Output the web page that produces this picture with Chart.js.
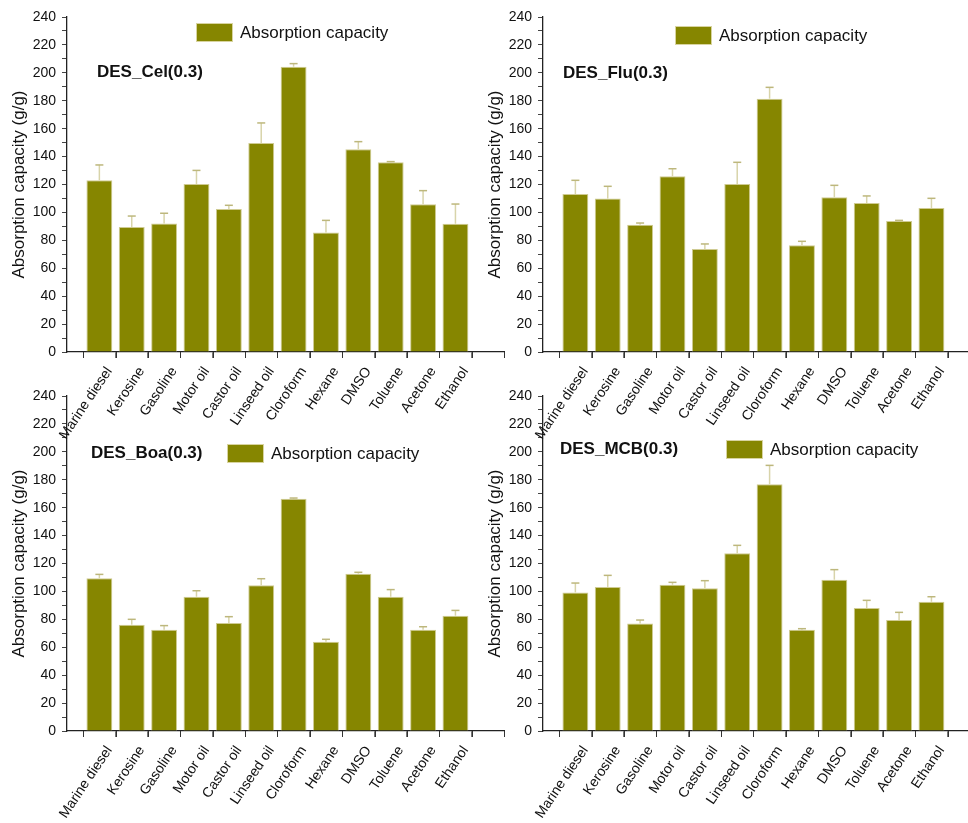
<!DOCTYPE html>
<html><head><meta charset="utf-8">
<script src="https://cdn.jsdelivr.net/npm/chart.js@4.4.0/dist/chart.umd.min.js"></script>
<style>
html,body{margin:0;padding:0;background:#fff;overflow:hidden;}
#wrap{position:relative;width:968px;height:823px;overflow:hidden;background:#fff;}
canvas{position:absolute;}
</style></head><body><div id="wrap">
<canvas id="c3" width="510" height="443" style="left:0px;top:380px;width:510px;height:443px"></canvas>
<canvas id="c4" width="510" height="443" style="left:476px;top:380px;width:510px;height:443px"></canvas>
<canvas id="c1" width="510" height="460" style="left:0px;top:0px;width:510px;height:460px"></canvas>
<canvas id="c2" width="510" height="460" style="left:476px;top:0px;width:510px;height:460px"></canvas>
</div>
<script>
// ---- data ----
const categories = ['Marine diesel','Kerosine','Gasoline','Motor oil','Castor oil','Linseed oil','Cloroform','Hexane','DMSO','Toluene','Acetone','Ethanol'];
const celValues = [123.0, 89.6, 92.0, 120.4, 102.4, 149.7, 204.4, 85.7, 145.2, 135.9, 105.8, 91.9];
const celErrors = [11.0, 7.8, 7.4, 9.7, 2.7, 14.4, 2.2, 8.6, 5.5, 0.5, 9.8, 14.1];
const fluValues = [113.2, 109.9, 91.2, 125.9, 73.8, 120.4, 181.5, 76.4, 110.8, 106.7, 93.9, 103.2];
const fluErrors = [9.8, 8.8, 1.2, 5.4, 3.6, 15.5, 8.1, 2.9, 8.6, 5.1, 0.4, 6.9];
const boaValues = [109.4, 76.2, 72.6, 96.2, 77.4, 104.4, 166.4, 64.0, 112.7, 96.2, 72.6, 82.6];
const boaErrors = [2.8, 3.8, 2.9, 4.3, 4.5, 4.7, 0.5, 1.7, 1.0, 5.1, 2.1, 3.8];
const mcbValues = [99.3, 103.2, 77.1, 104.8, 102.2, 127.3, 176.7, 72.6, 108.4, 88.1, 79.5, 92.6];
const mcbErrors = [6.7, 8.3, 2.4, 1.7, 5.5, 5.7, 13.6, 0.7, 7.2, 5.5, 5.5, 3.6];
const yTickValues = [0,10,20,30,40,50,60,70,80,90,100,110,120,130,140,150,160,170,180,190,200,210,220,230,240];
const xTickValues = [0,1,2,3,4,5,6,7,8,9,10,11,12,13];
const xMinorTickValues = [0.5,1.5,2.5,3.5,4.5,5.5,6.5,7.5,8.5,9.5,10.5,11.5,12.5,13.5];
const seriesName = 'Absorption capacity';
const yTitle = 'Absorption capacity (g/g)';

const FONT = "'Liberation Sans', Arial, sans-serif";
const BAR = '#868600';

const decoPlugin = {
  id: 'deco',
  afterDatasetsDraw(chart, args, opts) {
    const ctx = chart.ctx;
    const ca = chart.chartArea;
    const ys = chart.scales.y, xs = chart.scales.x;
    ctx.save();
    // minor x ticks
    ctx.strokeStyle = '#333'; ctx.lineWidth = 1;
    xMinorTickValues.forEach(v => {
      const px = Math.round(xs.getPixelForValue(v)) + 0.5;
      ctx.beginPath(); ctx.moveTo(px, ca.bottom); ctx.lineTo(px, ca.bottom + 6); ctx.stroke();
    });
    // error bars
    const ds = chart.data.datasets[0];
    const meta = chart.getDatasetMeta(0);
    meta.data.forEach((el, i) => {
      const v = ds.data[i].y, e = opts.errors[i];
      const yTop = ys.getPixelForValue(v + e);
      ctx.strokeStyle = '#d8d4aa';
      ctx.lineWidth = 1.5;
      ctx.beginPath(); ctx.moveTo(el.x, el.y); ctx.lineTo(el.x, yTop); ctx.stroke();
      ctx.strokeStyle = '#bdb77c';
      ctx.beginPath(); ctx.moveTo(el.x - 4, yTop); ctx.lineTo(el.x + 4, yTop); ctx.stroke();
    });
    // legend
    const lx = ca.left + opts.legendDX, ly = ca.top + opts.legendDY;
    ctx.fillStyle = BAR;
    ctx.fillRect(lx, ly, 37, 19);
    ctx.strokeStyle = '#d8d4a0'; ctx.lineWidth = 1;
    ctx.strokeRect(lx + 0.5, ly + 0.5, 36, 18);
    ctx.fillStyle = '#111';
    ctx.font = '17px ' + FONT;
    ctx.textBaseline = 'middle'; ctx.textAlign = 'left';
    ctx.fillText(seriesName, lx + 44, ly + 10);
    // panel title
    ctx.font = 'bold 17px ' + FONT;
    ctx.fillText(opts.title, ca.left + opts.titleDX, ca.top + opts.titleDY);
    ctx.restore();
  }
};

function makeChart(id, values, errors, title, padTop, canvasH, deco) {
  const data = values.map((v, i) => ({x: i + 1, y: v}));
  return new Chart(document.getElementById(id), {
    type: 'bar',
    data: { datasets: [{
      label: seriesName, data: data,
      backgroundColor: BAR, borderColor: '#cfcb92', borderWidth: 1,
      barPercentage: 0.8, categoryPercentage: 1.0
    }]},
    options: {
      responsive: false, animation: false, devicePixelRatio: 1,
      layout: { padding: { top: padTop, right: 6, left: 0, bottom: 0 } },
      plugins: {
        legend: { display: false }, tooltip: { enabled: false },
        deco: Object.assign({ errors: errors, title: title }, deco)
      },
      scales: {
        x: {
          type: 'linear', min: 0, max: 13.5, offset: false,
          afterBuildTicks(s) { s.ticks = xTickValues.map(v => ({value: v})); },
          afterFit(s) { s.height = canvasH - padTop - 335; },
          ticks: {
            autoSkip: false, minRotation: 56, maxRotation: 56, padding: 6, labelOffset: 10,
            color: '#111', font: { family: FONT, size: 14 },
            callback(v) { return (v >= 1 && v <= 12) ? categories[v - 1] : ''; }
          },
          grid: { display: true, drawOnChartArea: false, tickLength: 6, color: '#777', lineWidth: 1 },
          border: { display: true, color: '#222', width: 1.3 }
        },
        y: {
          min: 0, max: 240,
          afterBuildTicks(s) { s.ticks = yTickValues.map(v => ({value: v})); },
          afterFit(s) { s.width = 67; },
          ticks: {
            autoSkip: false, padding: 6, color: '#111', font: { family: FONT, size: 14 },
            callback(v) { return v % 20 === 0 ? String(v) : ''; }
          },
          grid: { display: true, drawOnChartArea: false, tickLength: 5, color: '#444', lineWidth: 1 },
          border: { display: true, color: '#222', width: 1.3 },
          title: { display: true, text: yTitle, color: '#111', font: { family: FONT, size: 17 }, padding: { top: 9, bottom: 0 } }
        }
      }
    },
    plugins: [decoPlugin]
  });
}

makeChart('c3', boaValues, boaErrors, 'DES_Boa(0.3)', 16, 443, { legendDX: 160, legendDY: 48, titleDX: 24, titleDY: 57 });
makeChart('c4', mcbValues, mcbErrors, 'DES_MCB(0.3)', 16, 443, { legendDX: 183, legendDY: 44, titleDX: 17, titleDY: 53 });
makeChart('c1', celValues, celErrors, 'DES_Cel(0.3)', 17, 460, { legendDX: 129, legendDY: 6, titleDX: 30, titleDY: 55 });
makeChart('c2', fluValues, fluErrors, 'DES_Flu(0.3)', 17, 460, { legendDX: 132, legendDY: 9, titleDX: 20, titleDY: 56 });
</script></body></html>
